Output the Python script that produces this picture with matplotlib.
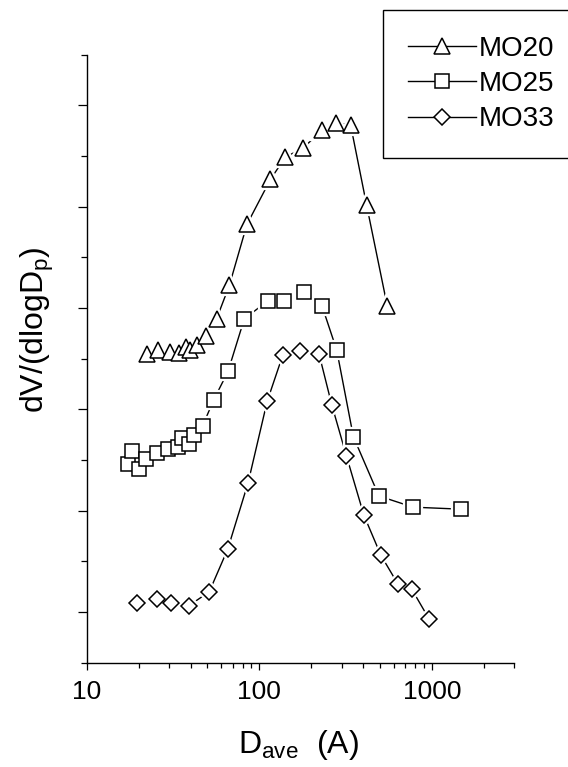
import matplotlib
matplotlib.use('Agg')
import matplotlib.pyplot as plt
from matplotlib.lines import Line2D
from matplotlib.ticker import LogLocator, NullFormatter

plt.rcParams['font.family'] = ['Liberation Sans', 'DejaVu Sans']
plt.rcParams['mathtext.fontset'] = 'custom'
plt.rcParams['mathtext.rm'] = 'Liberation Sans'
plt.rcParams['mathtext.it'] = 'Liberation Sans:italic'

# pore size (A) and dV/dlogD (arbitrary units, one unit per tick)
mo20_d = [22.4, 25.9, 30.3, 34.1, 37.7, 39.7, 43.5, 48.8, 56.5, 67, 84.7, 116, 141.6, 180, 230, 277, 338, 419, 552]
mo20_v = [6.09, 6.18, 6.13, 6.11, 6.23, 6.18, 6.27, 6.45, 6.79, 7.45, 8.65, 9.54, 9.98, 10.16, 10.51, 10.65, 10.62, 9.03, 7.04]

mo25_d = [17.4, 18.2, 20.1, 22.0, 25.4, 29.4, 33.5, 35.8, 38.8, 41.5, 46.8, 54.2, 65.8, 81.8, 112, 139, 182, 231, 281, 351, 494, 779, 1479]
mo25_v = [3.93, 4.18, 3.83, 4.03, 4.14, 4.21, 4.26, 4.43, 4.31, 4.50, 4.67, 5.18, 5.75, 6.79, 7.14, 7.14, 7.32, 7.04, 6.17, 4.46, 3.29, 3.07, 3.03]

mo33_d = [19.6, 25.5, 30.8, 38.8, 51.2, 65.5, 86, 111, 137, 172, 222, 263, 320, 404, 507, 637, 766, 966]
mo33_v = [1.18, 1.25, 1.18, 1.12, 1.40, 2.24, 3.55, 5.16, 6.08, 6.15, 6.09, 5.09, 4.08, 2.91, 2.12, 1.55, 1.45, 0.86]

labels = ['MO20', 'MO25', 'MO33']
markers = ['^', 's', 'D']
sizes = [11.5, 10.5, 8.3]

fig = plt.figure(figsize=(5.68, 7.67), dpi=100)
ax = fig.add_axes([87 / 568, 1 - 662.7 / 767, 427 / 568, 608 / 767])


def draw(x, y, marker, ms):
    # line, then a white halo so the line stops short of each symbol, then the symbol
    ax.plot(x, y, '-', color='black', lw=1.0, zorder=1)
    ax.plot(x, y, ls='none', marker=marker, ms=ms, mfc='white', mec='white', mew=4.5, zorder=2)
    ax.plot(x, y, ls='none', marker=marker, ms=ms, mfc='white', mec='black', mew=1.1, zorder=3)


for (x, y), m, s in zip([(mo20_d, mo20_v), (mo25_d, mo25_v), (mo33_d, mo33_v)], markers, sizes):
    draw(x, y, m, s)

ax.set_xscale('log')
ax.set_xlim(10, 3000)
ax.set_ylim(0, 12)

ax.set_xticks([10, 100, 1000])
ax.set_xticklabels(['10', '100', '1000'])
ax.xaxis.set_minor_locator(LogLocator(base=10, subs=range(2, 10)))
ax.xaxis.set_minor_formatter(NullFormatter())
ax.set_yticks([1, 3, 5, 7, 9, 11])
ax.set_yticks(range(0, 13, 2), minor=True)
ax.set_yticklabels([])

ax.tick_params(axis='x', which='major', direction='out', length=5.3, width=0.9, labelsize=19, pad=7)
ax.tick_params(axis='x', which='minor', direction='out', length=3.4, width=0.9)
ax.tick_params(axis='y', which='major', direction='out', length=6.7, width=0.9)
ax.tick_params(axis='y', which='minor', direction='out', length=4.3, width=0.9)

for side in ['top', 'right']:
    ax.spines[side].set_visible(False)
for side in ['left', 'bottom']:
    ax.spines[side].set_linewidth(1.0)

fig.text(298 / 568, 1 - 753 / 767, r'D$_\mathregular{ave}$  (A)', ha='center', va='baseline', fontsize=23)
fig.text(37 / 568, 1 - 330 / 767, r'dV/(dlogD$_\mathregular{p}$)', rotation=90, ha='center', va='center', fontsize=23)

handles = [Line2D([], [], color='black', lw=1.0, marker=m, ms=s, mfc='white', mec='black', mew=1.1)
           for m, s in zip(markers, sizes)]
leg = fig.legend(handles, labels, loc='upper left', bbox_to_anchor=(382.7 / 568, 1 - 10 / 767),
                 fontsize=20, handlelength=2.45, handletextpad=0.1, borderpad=0.92, labelspacing=0.34,
                 frameon=True, fancybox=False, edgecolor='black', framealpha=1, borderaxespad=0)
leg.get_frame().set_linewidth(1.0)

fig.savefig('out.png', dpi=100)
